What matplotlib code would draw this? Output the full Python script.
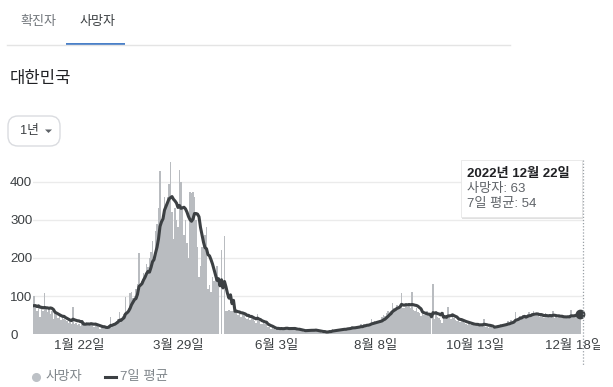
import numpy as np
import pandas as pd
import matplotlib
matplotlib.use('Agg')
import matplotlib.pyplot as plt
from matplotlib.patches import FancyBboxPatch, Rectangle, Polygon
from matplotlib.lines import Line2D
from matplotlib.transforms import Bbox

plt.rcParams['font.family'] = ['Liberation Sans', 'Noto Sans CJK KR']

# ---------------- data ----------------
start_date = '2021-12-23'
pre_deaths = [70, 78, 64, 72, 68, 73]  # 6 days before the window (for the 7-day mean)
deaths_dec21 = [100, 72, 60, 78, 45, 68, 62, 108, 66]
deaths_jan = [58, 70, 52, 60, 40, 60, 50, 44, 52, 38, 46, 40, 38, 34, 30, 36, 28, 72, 28,
              30, 24, 28, 22, 30, 26, 25, 32, 28, 24, 30, 26]
deaths_feb = [20, 28, 22, 18, 15, 20, 17, 19, 16, 20, 25, 45, 22, 30, 28, 35,
              40, 58, 42, 48, 52, 99, 54, 70, 107, 112, 95, 100]
deaths_mar = [118, 133, 214, 130, 140, 160, 150, 185, 176, 200, 215, 245, 200, 270, 290, 330,
              429, 300, 300, 360, 340, 360, 395, 452, 320, 250, 330, 300, 280, 431, 400]
deaths_apr = [330, 260, 300, 240, 200, 374, 370, 372, 360, 300, 230, 150, 180,
              230, 240, 260, 280, 120, 130, 110, 150, 140, 160, 180, 150, 0, 221, 0, 258, 60]
deaths_may = [60, 65, 60, 60, 60, 55, 65, 50, 60, 45, 58, 50, 44, 40, 52, 38, 46, 42,
              36, 30, 53, 35, 28, 26, 30, 26, 24, 18, 20, 15, 16]
deaths_jun = [14, 12, 14, 18, 15, 17, 13, 16, 18, 14, 12, 16, 20, 13, 14,
              10, 8, 12, 9, 11, 7, 10, 12, 9, 14, 10, 11, 8, 13, 7]
deaths_jul = [5, 8, 4, 6, 7, 5, 8, 11, 9, 13, 10, 12, 9, 12, 15, 14, 13, 17, 12, 16,
              15, 19, 22, 17, 18, 16, 21, 20, 26, 22, 28]
deaths_aug = [24, 25, 23, 28, 40, 30, 35, 32, 36, 29, 38, 45, 50, 48, 56, 62, 58,
              60, 83, 70, 65, 78, 72, 75, 107, 70, 68, 75, 72, 80, 70]
deaths_sep = [112, 65, 60, 70, 58, 55, 48, 55, 50, 52, 60, 48, 56, 0, 131, 40, 60, 45, 42, 38, 30,
              58, 50, 48, 71, 45, 40, 46, 42, 38]
deaths_oct = [35, 40, 33, 36, 34, 30, 28, 25, 32, 24, 26, 27, 22, 26, 25, 21, 28, 23, 40,
              18, 20, 17, 19, 21, 16, 20, 22, 25, 23, 26, 24]
deaths_nov = [22, 28, 30, 35, 28, 38, 32, 34, 59, 40, 44, 48, 42, 50, 46, 45,
              52, 58, 50, 55, 60, 48, 52, 50, 46, 52, 48, 44, 55, 47]
deaths_dec22 = [47, 52, 45, 60, 44, 48, 42, 48, 44, 46, 50, 42, 47, 45,
                45, 64, 46, 50, 48, 55, 52, 63]

tick_dates = ['2022-01-22', '2022-03-29', '2022-06-03', '2022-08-08', '2022-10-13', '2022-12-18']
tick_labels = ['1월 22일', '3월 29일', '6월 3일', '8월 8일', '10월 13일', '12월 18일']
y_ticks = [0, 100, 200, 300, 400]
tab_labels = ['확진자', '사망자']
region_title = '대한민국'
range_label = '1년'
legend_labels = ['사망자', '7일 평균']
tooltip_title = '2022년 12월 22일'

deaths = (deaths_dec21 + deaths_jan + deaths_feb + deaths_mar + deaths_apr + deaths_may +
          deaths_jun + deaths_jul + deaths_aug + deaths_sep + deaths_oct + deaths_nov + deaths_dec22)
dates = pd.date_range(start_date, periods=len(deaths), freq='D')
x = np.array((dates - dates[0]).days)
avg7 = pd.Series(pre_deaths + deaths).rolling(7).mean().iloc[len(pre_deaths):].to_numpy()
tick_x = [(pd.Timestamp(d) - dates[0]).days for d in tick_dates]

# ---------------- figure ----------------
W, H = 613, 387
fig = plt.figure(figsize=(W / 100, H / 100), dpi=100)
fig.patch.set_facecolor('white')

# main chart axes (pixel geometry)
ax_left, ax_right = 33, 584
ax_top, ax_bottom = 150, 334.3
ax = fig.add_axes([ax_left / W, 1 - ax_bottom / H, (ax_right - ax_left) / W, (ax_bottom - ax_top) / H])
px_per_day = 1.5
ax.set_xlim((ax_left - 34) / px_per_day, (ax_right - 34) / px_per_day)
ax.set_ylim(0, (ax_bottom - ax_top) / 0.3815)

for yv in y_ticks[1:]:
    ax.axhline(yv, color='#ebebeb', lw=1, zorder=0)

ax.bar(x, deaths, width=0.9, color='#b9bcc0', linewidth=0, zorder=1)
ax.plot(x, avg7, color='#3c4043', lw=2.2, solid_joinstyle='round', zorder=3)
ax.plot([x[-1]], [avg7[-1]], 'o', color='#3c4043', markersize=6, zorder=4, clip_on=False)

for s in ax.spines.values():
    s.set_visible(False)
ax.set_xticks(tick_x)
ax.set_xticklabels(tick_labels, fontsize=9.6, color='#3c4043')
ax.tick_params(axis='x', length=0, pad=4.2)
ax.set_yticks(y_ticks)
ax.set_yticklabels([str(v) for v in y_ticks], fontsize=9.6, color='#3c4043')
ax.tick_params(axis='y', length=0, pad=16.5)
for lab in ax.get_yticklabels():
    lab.set_ha('left')
clip = Bbox.from_extents(0, 0, 600, H)
for lab in ax.get_xticklabels():
    lab.set_clip_box(clip)
    lab.set_clip_on(True)

# overlay axes in pixel coordinates
ov = fig.add_axes([0, 0, 1, 1], zorder=5)
ov.set_xlim(0, W)
ov.set_ylim(H, 0)
ov.axis('off')
ov.patch.set_alpha(0)

# header tabs
ov.text(20, 22, tab_labels[0], fontsize=9.4, color='#70757a', va='center', ha='left')
ov.text(80, 22, tab_labels[1], fontsize=9.4, color='#3c4043', va='center', ha='left')
ov.add_line(Line2D([7, 510], [44.5, 44.5], color='#e4e4e4', lw=1))
ov.add_patch(Rectangle((66, 42.5), 59, 2.6, color='#4a80c8', lw=0))

# title
ov.text(10, 78, region_title, fontsize=12, color='#202124', va='center', ha='left')

# range button
ov.add_patch(FancyBboxPatch((8, 116), 52, 30, boxstyle='round,pad=0,rounding_size=10',
                            facecolor='white', edgecolor='#dadce0', lw=1))
ov.text(20, 131, range_label, fontsize=9.2, color='#3c4043', va='center', ha='left')
ov.add_patch(Polygon([[45, 129.5], [52, 129.5], [48.5, 133]], closed=True, color='#5f6368', lw=0))

# legend
ov.plot([36], [376.7], 'o', color='#bdc1c6', markersize=5.5)
ov.text(46, 376.7, legend_labels[0], fontsize=9.6, color='#80868b', va='center', ha='left')
ov.add_line(Line2D([105, 116], [376.7, 376.7], color='#3c4043', lw=2.2))
ov.text(120, 376.7, legend_labels[1], fontsize=9.6, color='#80868b', va='center', ha='left')

# hover guide + tooltip
ov.add_line(Line2D([582.7, 582.7], [160, 365], color='#9aa0a6', lw=0.9, ls=(0, (1, 1.5))))
ov.add_patch(Rectangle((462, 162), 121, 57, facecolor='#000000', alpha=0.12, lw=0))
ov.add_patch(Rectangle((461, 160), 121, 57, facecolor='white', edgecolor='#e6e6e6', lw=0.6))
ov.text(467, 174, tooltip_title, fontsize=9.5, fontweight='bold', color='#202124', va='center', ha='left')
ov.text(467, 189, f'{legend_labels[0]}: {deaths[-1]}', fontsize=9.5, color='#5f6368', va='center', ha='left')
ov.text(467, 203.5, f'{legend_labels[1]}: {int(round(avg7[-1]))}', fontsize=9.5, color='#5f6368',
        va='center', ha='left')

fig.savefig('out.png', dpi=100, facecolor='white')
